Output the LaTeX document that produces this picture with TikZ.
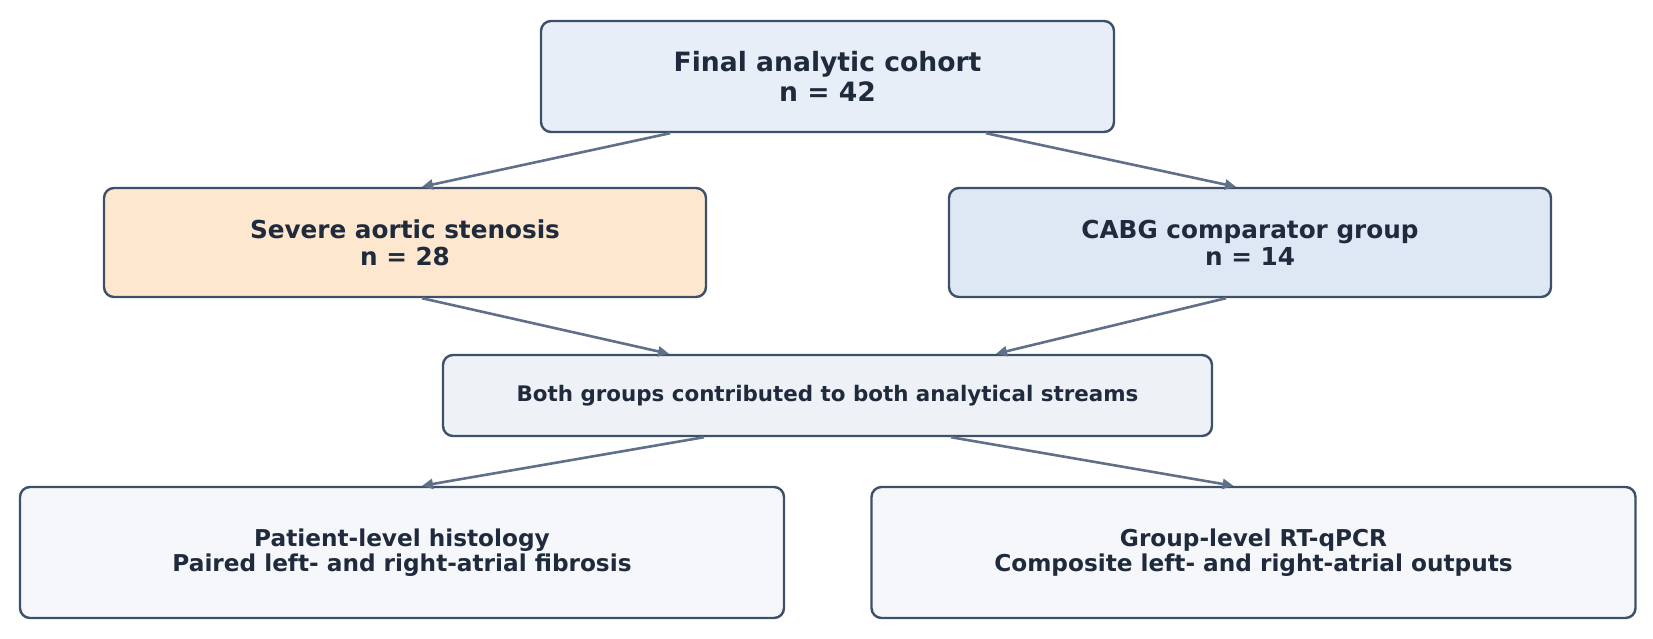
\documentclass[tikz,border=0pt]{standalone}
\usepackage{fontspec}
\setmainfont{DejaVu Sans}
\usetikzlibrary{arrows.meta,calc}
\definecolor{txt}{HTML}{1F2A3C}
\definecolor{bord}{HTML}{3D5068}
\definecolor{arr}{HTML}{5F7088}
\definecolor{ftop}{HTML}{E8EEF7}
\definecolor{fas}{HTML}{FDE7CF}
\definecolor{fcabg}{HTML}{DEE8F5}
\definecolor{fmid}{HTML}{EEF2F7}
\definecolor{fbot}{HTML}{F5F7FA}
\tikzset{
  box/.style={draw=bord, line width=1.2pt, rounded corners=5pt, align=center,
    inner sep=0pt, text=txt, font=\bfseries},
  conn/.style={draw=arr, line width=1.3pt, -{Triangle[length=5.5pt,width=5pt]}},
}
\begin{document}
\begin{tikzpicture}[x=0.5pt,y=-0.5pt]
\useasboundingbox (0,0) rectangle (1653,638);
\node[box, fill=ftop, minimum width=286.5pt, minimum height=55.5pt,
  font=\bfseries\fontsize{13.3}{15}\selectfont] (top) at (827.5,76.5)
  {Final analytic cohort\\n = 42};
\node[box, fill=fas, minimum width=301pt, minimum height=54.5pt,
  font=\bfseries\fontsize{12.35}{13.4}\selectfont] (as) at (405,242.5)
  {Severe aortic stenosis\\n = 28};
\node[box, fill=fcabg, minimum width=301pt, minimum height=54.5pt,
  font=\bfseries\fontsize{12.35}{13.4}\selectfont] (cabg) at (1250,242.5)
  {CABG comparator group\\n = 14};
\node[box, fill=fmid, minimum width=384.5pt, minimum height=40.5pt,
  font=\bfseries\fontsize{10.7}{12.5}\selectfont] (mid) at (827.5,395.5)
  {Both groups contributed to both analytical streams};
\node[box, fill=fbot, minimum width=382pt, minimum height=65.5pt,
  font=\bfseries\fontsize{11.6}{12.8}\selectfont] (histo) at (402,552.5)
  {Patient-level histology\\Paired left- and right-atrial fibrosis};
\node[box, fill=fbot, minimum width=382pt, minimum height=65.5pt,
  font=\bfseries\fontsize{11.6}{12.8}\selectfont] (pcr) at (1253.5,552.5)
  {Group-level RT-qPCR\\Composite left- and right-atrial outputs};
\draw[conn] ($(top.south)+(-157.5,0)$) -- ($(as.north)+(17,0)$);
\draw[conn] ($(top.south)+(158.5,0)$) -- ($(cabg.north)+(-14,0)$);
\draw[conn] ($(as.south)+(17,0)$) -- ($(mid.north)+(-158.5,0)$);
\draw[conn] ($(cabg.south)+(-24,0)$) -- ($(mid.north)+(168.5,0)$);
\draw[conn] ($(mid.south)+(-123.5,0)$) -- ($(histo.north)+(20,0)$);
\draw[conn] ($(mid.south)+(123.5,0)$) -- ($(pcr.north)+(-20,0)$);
\end{tikzpicture}
\end{document}
